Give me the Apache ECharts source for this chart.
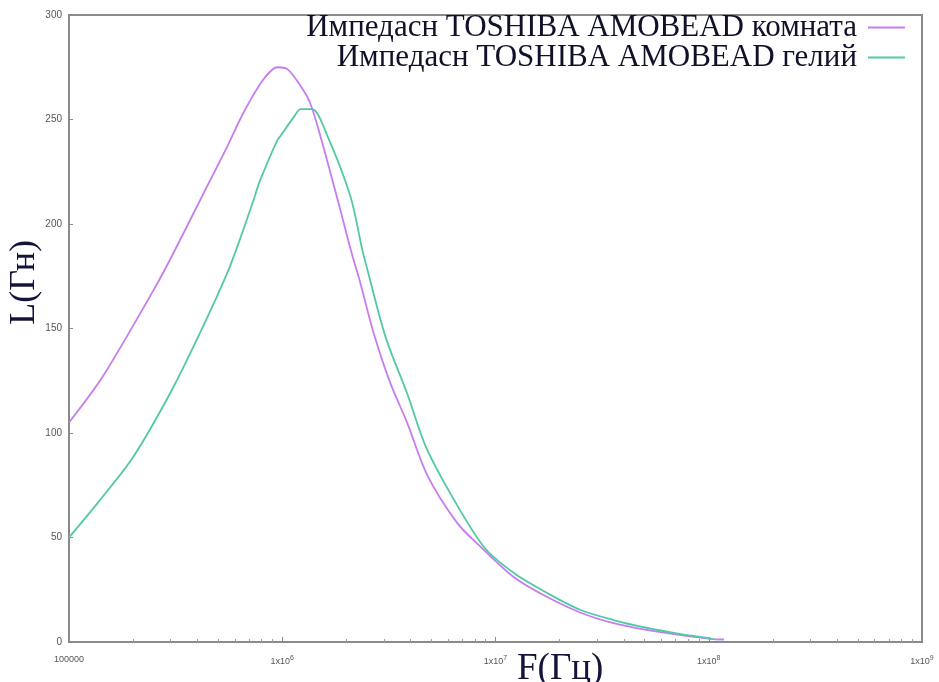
<!DOCTYPE html>
<html>
<head>
<meta charset="utf-8">
<script src="https://cdn.jsdelivr.net/npm/echarts@6/dist/echarts.min.js"></script>
<style>html,body{margin:0;padding:0;background:#fff}#c{width:939px;height:682px}</style>
</head>
<body>
<div id="c"></div>
<script>
// Series names
const nameRoom = 'Импедасн TOSHIBA AMOBEAD комната';
const nameHe = 'Импедасн TOSHIBA AMOBEAD гелий';
// Room temperature curve: frequency (Hz) and L values
const freqRoom = [1e5, 1.44e5, 2.48e5, 2.98e5, 4.44e5, 5.52e5, 6.56e5, 8.14e5, 9.47e5, 1.06e6, 1.22e6, 1.35e6, 1.51e6, 1.87e6, 2.09e6, 2.32e6, 2.68e6, 3.21e6, 3.85e6, 4.78e6, 6.61e6, 8.5e6, 1.22e7, 1.75e7, 2.51e7, 3.58e7, 5.17e7, 7.39e7, 1.05e8, 1.18e8];
const lRoom = [105, 127, 168, 183, 218, 237, 253, 269, 275, 274, 266, 258, 242, 207, 188, 172, 148, 124, 105, 80, 57, 45.6, 31, 21.5, 14, 9, 5.7, 3.3, 1.4, 1.2];
// Helium curve
const freqHe = [1e5, 1.40e5, 2.0e5, 2.98e5, 4.12e5, 5.52e5, 6.35e5, 7.31e5, 7.88e5, 9.47e5, 9.79e5, 1.13e6, 1.22e6, 1.38e6, 1.63e6, 2.09e6, 2.37e6, 2.51e6, 3.05e6, 3.85e6, 4.69e6, 6.15e6, 8.81e6, 1.22e7, 1.75e7, 2.51e7, 3.58e7, 5.17e7, 7.39e7, 9.89e7, 1.05e8];
const lHe = [50, 68, 88.5, 119, 148, 176.5, 193, 211, 221, 240, 242, 251, 255, 255, 242, 213, 188, 178, 146, 119, 94, 71, 45.6, 33, 23.4, 15.3, 10.5, 6.7, 3.8, 1.9, 1.4];
// Axis names
const yName = 'L(Гн)';
const xName = 'F(Гц)';

const colRoom = '#c77cf0';
const colHe = '#52c9a6';

const chart = echarts.init(document.getElementById('c'));
const legendCommon = {
  orient: 'vertical', align: 'right', padding: 0,
  icon: 'rect', itemWidth: 37, itemHeight: 2,
  textStyle: {fontFamily: 'Liberation Serif', fontSize: 31, color: '#10102a', padding: [0, 6, 0, 0]}
};
chart.setOption({
  animation: false,
  backgroundColor: '#fff',
  grid: {left: 69, right: 17, top: 15, bottom: 40, show: true, borderColor: '#8a8a8a', borderWidth: 2},
  legend: [
    Object.assign({}, legendCommon, {data: [nameRoom], right: 34, top: 12}),
    Object.assign({}, legendCommon, {data: [nameHe], right: 34, top: 42})
  ],
  xAxis: {
    type: 'log', logBase: 10, min: 1e5, max: 1e9,
    axisLine: {lineStyle: {color: '#8a8a8a', width: 2}},
    axisTick: {inside: true, length: 5, lineStyle: {color: '#8a8a8a'}},
    minorTick: {show: true, splitNumber: 9, length: 3, lineStyle: {color: '#9a9a9a'}},
    splitLine: {show: false},
    axisLabel: {
      margin: 13, color: '#555', fontFamily: 'Liberation Sans', fontSize: 9,
      formatter: function (v) {
        const e = Math.round(Math.log10(v));
        if (e === 5) return '100000';
        return '1x10{sup|' + e + '}';
      },
      rich: {sup: {fontSize: 7, verticalAlign: 'top', padding: [0, 0, 6, 0], color: '#555', fontFamily: 'Liberation Sans'}}
    }
  },
  yAxis: {
    type: 'value', min: 0, max: 300, interval: 50,
    axisLine: {show: true, lineStyle: {color: '#8a8a8a', width: 2}},
    axisTick: {show: true, inside: true, length: 4, lineStyle: {color: '#8a8a8a'}},
    splitLine: {show: false},
    axisLabel: {margin: 7, color: '#555', fontFamily: 'Liberation Sans', fontSize: 10}
  },
  graphic: [
    {type: 'text', left: 7, top: 240, rotation: Math.PI / 2, style: {text: yName, font: '36px "Liberation Serif"', fill: '#14143a'}, originX: 0, originY: 0},
    {type: 'text', left: 517, top: 651, style: {text: xName, font: '37px "Liberation Serif"', fill: '#14143a'}}
  ],
  series: [
    {name: nameRoom, type: 'line', symbol: 'none', smooth: 0.3, data: freqRoom.map((f, i) => [f, lRoom[i]]), lineStyle: {color: colRoom, width: 1.8}, itemStyle: {color: colRoom}},
    {name: nameHe, type: 'line', symbol: 'none', smooth: 0.3, data: freqHe.map((f, i) => [f, lHe[i]]), lineStyle: {color: colHe, width: 1.8}, itemStyle: {color: colHe}}
  ]
});
</script>
</body>
</html>
